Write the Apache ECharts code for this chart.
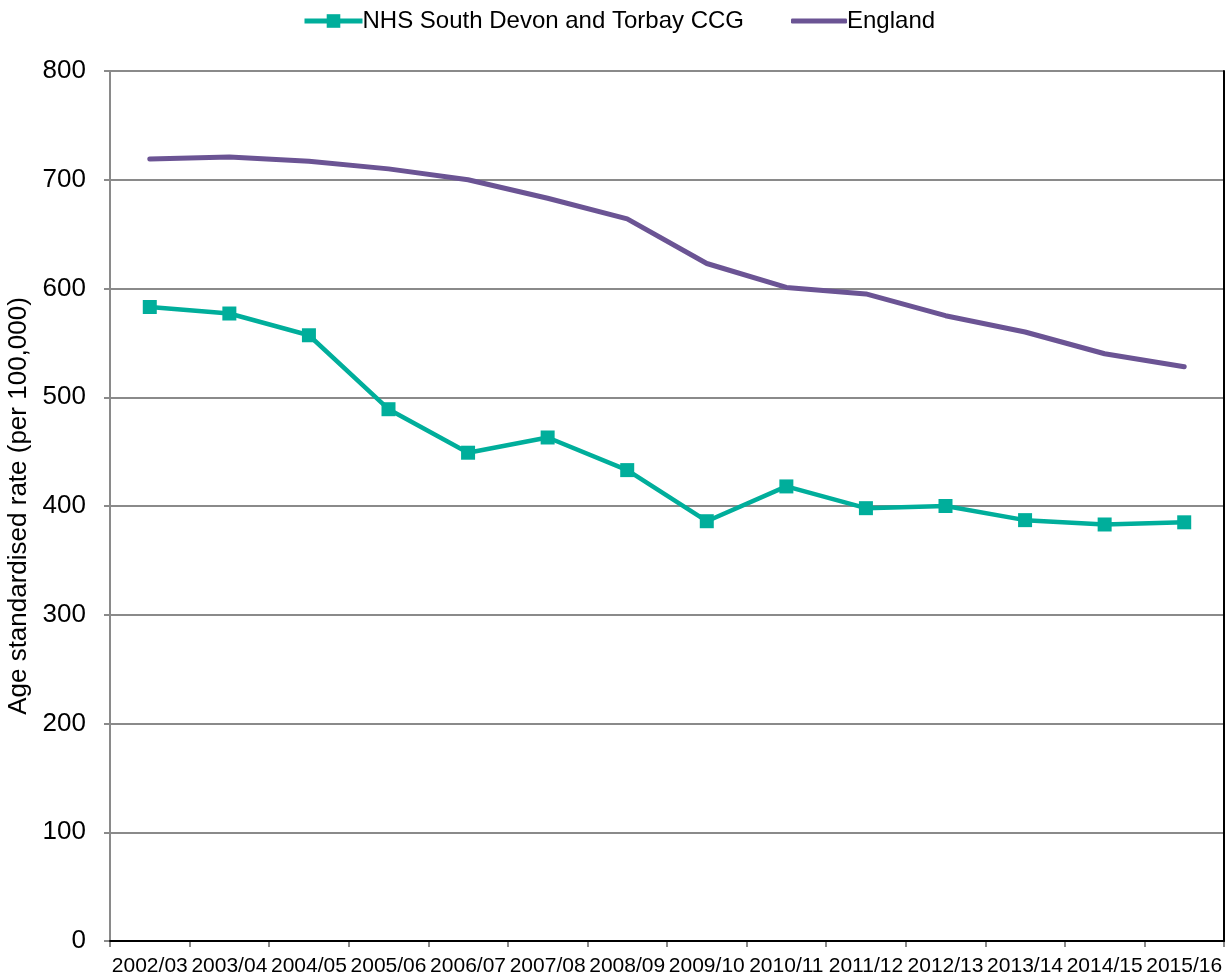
<!DOCTYPE html>
<html>
<head>
<meta charset="utf-8">
<script src="https://cdn.jsdelivr.net/npm/echarts@6/dist/echarts.min.js"></script>
<style>
  html, body { margin: 0; padding: 0; background: #fff; }
  #chart { width: 1225px; height: 977px; }
</style>
</head>
<body>
<div id="chart"></div>
<script>
// Financial years
const years = ['2002/03', '2003/04', '2004/05', '2005/06', '2006/07', '2007/08', '2008/09',
  '2009/10', '2010/11', '2011/12', '2012/13', '2013/14', '2014/15', '2015/16'];

// Age standardised rate per 100,000
const southDevonTorbay = [583, 577, 557, 489, 449, 463, 433, 386, 418, 398, 400, 387, 383, 385];
const england = [719, 721, 717, 710, 700, 683, 664, 623, 601, 595, 575, 560, 540, 528];

const seriesNames = ['NHS South Devon and Torbay CCG', 'England'];
const yTicks = [0, 100, 200, 300, 400, 500, 600, 700, 800];

const TEAL = '#00ae9b';
const PURPLE = '#6b5494';
const AXIS_GREY = '#8a8a8a';
const FONT = '"Liberation Sans", Arial, sans-serif';

const legendText = { fontFamily: FONT, fontSize: 24, color: '#000', padding: [0, 0, 0, -5] };

const chart = echarts.init(document.getElementById('chart'));

chart.setOption({
  backgroundColor: '#ffffff',
  animation: false,
  textStyle: { fontFamily: FONT, color: '#000' },
  legend: [
    {
      // line with square marker
      top: 4,
      left: 297,
      itemWidth: 58,
      itemHeight: 17,
      lineStyle: { width: 5 },
      textStyle: legendText,
      data: [seriesNames[0]]
    },
    {
      // plain line
      top: 4,
      left: 786,
      itemWidth: 56,
      itemHeight: 5,
      icon: 'roundRect',
      textStyle: legendText,
      data: [seriesNames[1]]
    }
  ],
  grid: { left: 110, right: 1, top: 71, bottom: 36, outerBoundsMode: 'none', containLabel: false },
  xAxis: [
    {
      type: 'category',
      data: years,
      boundaryGap: true,
      axisLine: { lineStyle: { color: AXIS_GREY, width: 2 } },
      axisTick: { show: true, length: 6, lineStyle: { color: AXIS_GREY, width: 2 } },
      axisLabel: { fontFamily: FONT, fontSize: 21, color: '#000', margin: 15, interval: 0 },
      splitLine: { show: false }
    },
    {
      // black frame along the top of the plot
      type: 'category',
      data: years,
      position: 'top',
      z: 5,
      axisLine: { lineStyle: { color: '#000', width: 2 } },
      axisTick: { show: false },
      axisLabel: { show: false }
    }
  ],
  yAxis: [
    {
      type: 'value',
      min: yTicks[0],
      max: yTicks[yTicks.length - 1],
      interval: 100,
      name: 'Age standardised rate (per 100,000)',
      nameLocation: 'middle',
      nameGap: 76,
      nameTextStyle: { fontFamily: FONT, fontSize: 26, color: '#000' },
      axisLine: { show: true, lineStyle: { color: AXIS_GREY, width: 2 } },
      axisTick: { show: true, length: 6, lineStyle: { color: AXIS_GREY, width: 2 } },
      axisLabel: { fontFamily: FONT, fontSize: 26, color: '#000', margin: 24 },
      splitLine: { show: true, lineStyle: { color: AXIS_GREY, width: 2 } }
    },
    {
      // black frame along the right of the plot
      type: 'value',
      min: yTicks[0],
      max: yTicks[yTicks.length - 1],
      interval: 100,
      position: 'right',
      z: 5,
      axisLine: { show: true, lineStyle: { color: '#000', width: 2 } },
      axisTick: { show: false },
      axisLabel: { show: false },
      splitLine: { show: false }
    }
  ],
  series: [
    {
      name: seriesNames[0],
      type: 'line',
      data: southDevonTorbay,
      symbol: 'rect',
      symbolSize: 14,
      z: 4,
      lineStyle: { color: TEAL, width: 4.5 },
      itemStyle: { color: TEAL }
    },
    {
      name: seriesNames[1],
      type: 'line',
      data: england,
      symbol: 'none',
      z: 3,
      lineStyle: { color: PURPLE, width: 5, cap: 'round', join: 'round' },
      itemStyle: { color: PURPLE }
    }
  ]
});
</script>
</body>
</html>
